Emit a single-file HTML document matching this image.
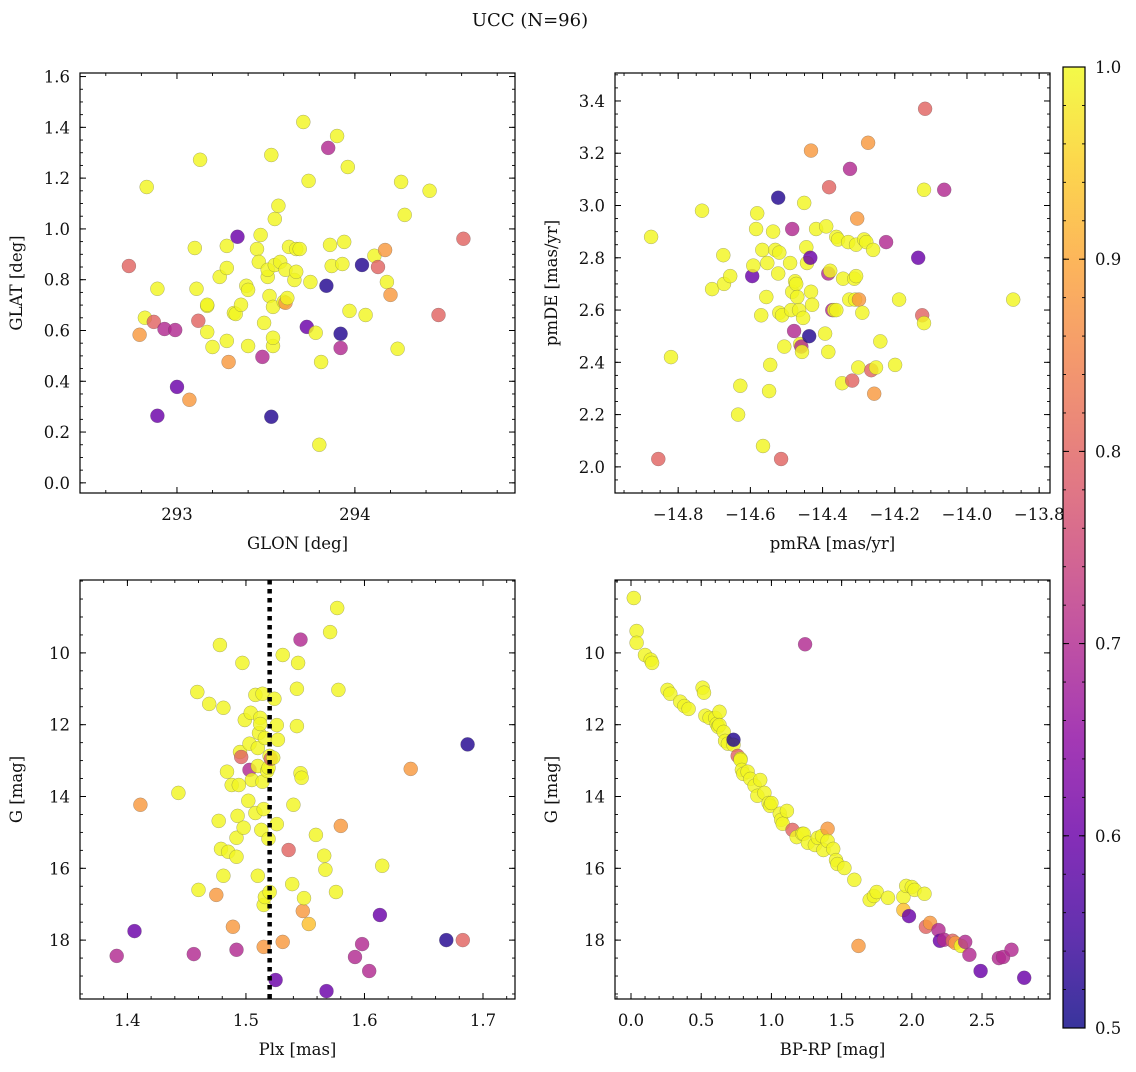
<!DOCTYPE html>
<html><head><meta charset="utf-8"><style>
html,body{margin:0;padding:0;background:#fff;}
svg text{font-family:"DejaVu Serif","Liberation Serif",serif;fill:#111;}
</style></head><body>
<svg id="fig" width="1136" height="1067" viewBox="0 0 1136 1067" xmlns="http://www.w3.org/2000/svg">
<text x="530" y="26" font-size="18" text-anchor="middle">UCC (N=96)</text>
</svg>
<script>
// probabilities per class
const Y=0.995,O=0.88,O2=0.93,S=0.80,M=0.70,P=0.60,B=0.52;
// top-left: GLON / GLAT
const tlGlon=[292.73,292.83,292.79,292.82,292.87,292.89,292.93,292.99,292.89,293.00,293.07,293.10,293.11,293.12,293.13,293.17,293.17,293.17,293.20,293.24,293.28,293.28,293.28,293.29,293.32,293.33,293.34,293.36,293.39,293.40,293.40,293.45,293.46,293.47,293.48,293.49,293.51,293.51,293.52,293.53,293.53,293.54,293.54,293.54,293.55,293.55,293.57,293.58,293.60,293.61,293.61,293.62,293.63,293.66,293.67,293.67,293.69,293.71,293.74,293.73,293.75,293.78,293.80,293.81,293.84,293.85,293.86,293.87,293.90,293.92,293.92,293.93,293.94,293.97,293.96,294.04,294.06,294.11,294.13,294.17,294.18,294.20,294.24,294.26,294.28,294.42,294.47,294.61];
const tlGlat=[0.854,1.165,0.583,0.650,0.634,0.764,0.606,0.602,0.264,0.378,0.327,0.925,0.764,0.638,1.272,0.697,0.594,0.701,0.535,0.811,0.846,0.933,0.559,0.476,0.669,0.665,0.969,0.701,0.776,0.760,0.539,0.921,0.870,0.976,0.496,0.630,0.811,0.839,0.736,1.291,0.260,0.693,0.539,0.571,0.858,1.039,1.091,0.870,0.713,0.709,0.839,0.728,0.929,0.799,0.921,0.831,0.921,1.421,1.189,0.614,0.791,0.591,0.150,0.476,0.776,1.319,0.937,0.854,1.366,0.587,0.531,0.862,0.949,0.677,1.244,0.858,0.661,0.894,0.850,0.917,0.791,0.740,0.528,1.185,1.055,1.150,0.661,0.961];
const tlProb=[S,Y,O,Y,S,Y,M,M,P,P,O,Y,Y,S,Y,Y,Y,Y,Y,Y,Y,Y,Y,O,Y,Y,P,Y,Y,Y,Y,Y,Y,Y,M,Y,Y,Y,Y,Y,B,Y,Y,Y,Y,Y,Y,Y,Y,O,Y,Y,Y,Y,Y,Y,Y,Y,Y,P,Y,Y,Y,Y,B,M,Y,Y,Y,B,M,Y,Y,Y,Y,B,Y,Y,S,O,Y,O,Y,Y,Y,Y,S,S];
// top-right: pmRA / pmDE
const trPmra=[-14.875,-14.855,-14.82,-14.734,-14.706,-14.675,-14.673,-14.656,-14.634,-14.628,-14.595,-14.592,-14.581,-14.584,-14.567,-14.570,-14.565,-14.556,-14.553,-14.548,-14.545,-14.537,-14.531,-14.523,-14.520,-14.523,-14.520,-14.515,-14.512,-14.506,-14.490,-14.487,-14.484,-14.484,-14.479,-14.476,-14.473,-14.470,-14.465,-14.462,-14.459,-14.457,-14.454,-14.451,-14.445,-14.443,-14.437,-14.434,-14.432,-14.432,-14.429,-14.418,-14.393,-14.390,-14.384,-14.384,-14.382,-14.379,-14.373,-14.368,-14.362,-14.362,-14.357,-14.346,-14.343,-14.329,-14.326,-14.324,-14.318,-14.312,-14.310,-14.307,-14.307,-14.304,-14.301,-14.299,-14.290,-14.285,-14.279,-14.274,-14.265,-14.260,-14.257,-14.252,-14.240,-14.224,-14.199,-14.188,-14.135,-14.124,-14.119,-14.119,-14.116,-14.063,-13.872];
const trPmde=[2.88,2.03,2.42,2.98,2.68,2.81,2.70,2.73,2.20,2.31,2.73,2.77,2.97,2.91,2.83,2.58,2.08,2.65,2.78,2.29,2.39,2.90,2.83,3.03,2.82,2.74,2.59,2.03,2.58,2.46,2.78,2.60,2.91,2.67,2.52,2.71,2.70,2.65,2.60,2.47,2.46,2.44,2.57,3.01,2.84,2.78,2.50,2.80,3.21,2.67,2.62,2.91,2.51,2.92,2.74,2.44,3.07,2.75,2.60,2.60,2.60,2.88,2.87,2.32,2.72,2.86,2.64,3.14,2.33,2.72,2.64,2.85,2.73,2.95,2.38,2.64,2.59,2.87,2.86,3.24,2.37,2.83,2.28,2.38,2.48,2.86,2.39,2.64,2.80,2.58,2.55,3.06,3.37,3.06,2.64];
const trProb=[Y,S,Y,Y,Y,Y,Y,Y,Y,Y,P,Y,Y,Y,Y,Y,Y,Y,Y,Y,Y,Y,Y,B,Y,Y,Y,S,Y,Y,Y,Y,M,Y,M,Y,Y,Y,Y,Y,M,Y,Y,Y,Y,Y,B,P,O,Y,Y,Y,Y,Y,M,Y,S,Y,M,Y,Y,Y,Y,Y,Y,Y,Y,M,S,Y,Y,Y,Y,O,Y,O,Y,Y,Y,O,S,Y,O,Y,Y,M,Y,Y,P,S,Y,Y,S,M,Y];
// bottom-left: Plx / G
const blPlx=[1.391,1.406,1.411,1.443,1.456,1.459,1.460,1.469,1.475,1.477,1.478,1.479,1.481,1.481,1.484,1.485,1.488,1.489,1.492,1.492,1.492,1.493,1.494,1.495,1.496,1.497,1.498,1.499,1.502,1.503,1.503,1.504,1.505,1.508,1.508,1.510,1.510,1.510,1.511,1.512,1.512,1.513,1.514,1.514,1.515,1.515,1.515,1.516,1.516,1.518,1.519,1.519,1.520,1.520,1.521,1.523,1.524,1.525,1.526,1.526,1.527,1.531,1.531,1.536,1.539,1.540,1.543,1.544,1.546,1.543,1.548,1.546,1.547,1.549,1.553,1.559,1.568,1.566,1.567,1.571,1.576,1.577,1.578,1.580,1.592,1.598,1.604,1.613,1.615,1.639,1.669,1.683,1.687];
const blG=[18.44,17.75,14.23,13.90,18.39,11.09,16.60,11.42,16.74,14.68,9.78,15.46,16.21,11.53,13.31,15.54,13.68,17.63,18.27,15.15,15.68,14.54,13.68,12.76,12.90,10.28,14.87,11.87,14.12,13.26,12.53,11.67,13.54,11.17,14.46,12.65,16.21,13.15,12.23,11.81,11.98,14.93,11.14,13.59,14.35,17.02,18.19,16.80,12.37,13.29,13.20,15.18,12.87,16.66,12.95,12.92,11.28,19.11,14.77,12.01,12.42,18.05,10.06,15.49,16.44,14.23,11.00,10.28,9.63,12.04,17.19,13.35,13.48,16.83,17.55,15.07,19.42,15.65,16.04,9.42,16.66,8.75,11.03,14.82,18.47,18.11,18.86,17.30,15.93,13.23,18.00,18.00,12.55];
const blProb=[M,P,O,Y,M,Y,Y,Y,O,Y,Y,Y,Y,Y,Y,Y,Y,O,M,Y,Y,Y,Y,Y,S,Y,Y,Y,Y,M,Y,Y,Y,Y,Y,Y,Y,Y,Y,Y,Y,Y,Y,Y,Y,Y,O,Y,Y,Y,Y,Y,Y,Y,S,Y,Y,P,Y,Y,Y,O,Y,S,Y,Y,Y,Y,M,Y,O,Y,Y,Y,O2,Y,P,Y,Y,Y,Y,Y,Y,O,M,M,M,P,Y,O,B,S,B];
const blPlxLine=1.52;
// bottom-right: BP-RP / G
const brBprp=[0.02,0.04,0.04,0.10,0.14,0.15,0.26,0.28,0.35,0.38,0.41,0.51,0.52,0.53,0.56,0.60,0.61,0.62,0.63,0.63,0.66,0.67,0.69,0.73,0.73,0.76,0.78,0.78,0.79,0.80,0.83,0.85,0.88,0.90,0.92,0.95,0.98,0.99,1.00,1.06,1.07,1.08,1.11,1.15,1.18,1.22,1.23,1.24,1.26,1.31,1.33,1.36,1.37,1.40,1.40,1.44,1.46,1.47,1.52,1.59,1.62,1.70,1.73,1.75,1.83,1.94,1.94,1.96,1.98,2.00,2.02,2.09,2.10,2.13,2.19,2.20,2.23,2.29,2.31,2.35,2.38,2.41,2.49,2.62,2.65,2.71,2.80];
const brG=[8.47,9.39,9.72,10.06,10.19,10.28,11.03,11.14,11.36,11.48,11.56,10.97,11.11,11.75,11.81,11.81,11.98,12.06,11.64,12.01,12.20,12.45,12.53,12.56,12.42,12.87,12.95,12.98,13.26,13.37,13.31,13.51,13.70,13.98,13.54,13.90,14.18,14.26,14.18,14.48,14.65,14.76,14.40,14.93,15.13,15.04,15.04,9.76,15.29,15.35,15.15,15.10,15.49,14.90,15.24,15.46,15.77,15.88,15.99,16.32,18.16,16.88,16.77,16.66,16.82,16.80,17.16,16.49,17.33,16.52,16.60,16.71,17.63,17.52,17.72,18.02,17.99,18.02,18.08,18.16,18.05,18.41,18.86,18.50,18.47,18.27,19.05];
const brProb=[Y,Y,Y,Y,Y,Y,Y,Y,Y,Y,Y,Y,Y,Y,Y,Y,Y,Y,Y,Y,Y,Y,Y,Y,B,S,Y,Y,Y,Y,Y,Y,Y,Y,Y,Y,Y,Y,Y,Y,Y,Y,Y,S,Y,Y,Y,M,Y,Y,Y,Y,Y,O,Y,Y,Y,Y,Y,Y,O,Y,Y,Y,Y,Y,O2,Y,P,Y,Y,Y,S,O,M,P,M,S,O,Y,M,M,P,M,M,M,P];
// tick labels
const tlXTicks=[293,294], tlYTicks=[0.0,0.2,0.4,0.6,0.8,1.0,1.2,1.4,1.6];
const trXTicks=[-14.8,-14.6,-14.4,-14.2,-14.0,-13.8], trYTicks=[2.0,2.2,2.4,2.6,2.8,3.0,3.2,3.4];
const blXTicks=[1.4,1.5,1.6,1.7], gTicks=[10,12,14,16,18];
const brXTicks=[0.0,0.5,1.0,1.5,2.0,2.5];
const cbTicks=[0.5,0.6,0.7,0.8,0.9,1.0];

const NS='http://www.w3.org/2000/svg';
const svg=document.getElementById('fig');
function mk(tag,attrs,parent){const e=document.createElementNS(NS,tag);for(const k in attrs)e.setAttribute(k,attrs[k]);(parent||svg).appendChild(e);return e;}
const stops=['#0d0887','#41049d','#6a00a8','#8f0da4','#b12a90','#cc4778','#e16462','#f2844b','#fca636','#fcce25','#f0f921'];
function hex(h){return [parseInt(h.substr(1,2),16),parseInt(h.substr(3,2),16),parseInt(h.substr(5,2),16)];}
function plasma(t){t=Math.max(0,Math.min(1,t));const f=t*10,i=Math.min(9,Math.floor(f)),r=f-i;const a=hex(stops[i]),b=hex(stops[i+1]);return 'rgb('+a.map((v,k)=>Math.round(v+(b[k]-v)*r)).join(',')+')';}
function pcol(p){return plasma((p-0.5)/0.5);}
function fmt(v,d){return (v<0?'\u2212':'')+Math.abs(v).toFixed(d);}

function panel(name,px0,px1,py0,py1,xd,yd,xt,xdec,xminor,yt,ydec,yminor,xlabel,ylabel,xs,ys,ps){
  const g=mk('g',{});
  
  
  const sx=v=>px0+(v-xd[0])/(xd[1]-xd[0])*(px1-px0);
  const sy=v=>py0+(v-yd[0])/(yd[1]-yd[0])*(py1-py0);
  const clip=mk('clipPath',{id:'clip-'+name},g);mk('rect',{x:px0,y:Math.min(py0,py1),width:px1-px0,height:Math.abs(py1-py0)},clip);
  const pts=mk('g',{'clip-path':'url(#clip-'+name+')'},g);
  for(let i=0;i<xs.length;i++){
    const c=mk('circle',{cx:sx(xs[i]).toFixed(1),cy:sy(ys[i]).toFixed(1),r:7,fill:pcol(ps[i]),'fill-opacity':0.82,stroke:'#555','stroke-width':0.4,'stroke-opacity':0.6},pts);
    
    
  }
  const top=Math.min(py0,py1),bot=Math.max(py0,py1);
  mk('rect',{x:px0,y:top,width:px1-px0,height:bot-top,fill:'none',stroke:'#000','stroke-width':1.2},g);
  const lo=Math.min(xd[0],xd[1]),hi=Math.max(xd[0],xd[1]);
  for(let v=Math.ceil(lo/xminor-1e-6)*xminor;v<=hi+1e-9;v+=xminor){const x=sx(v);mk('line',{x1:x,x2:x,y1:bot,y2:bot-3,stroke:'#000','stroke-width':0.9},g);mk('line',{x1:x,x2:x,y1:top,y2:top+3,stroke:'#000','stroke-width':0.9},g);}
  const ylo=Math.min(yd[0],yd[1]),yhi=Math.max(yd[0],yd[1]);
  for(let v=Math.ceil(ylo/yminor-1e-6)*yminor;v<=yhi+1e-9;v+=yminor){const y=sy(v);mk('line',{x1:px0,x2:px0+3,y1:y,y2:y,stroke:'#000','stroke-width':0.9},g);mk('line',{x1:px1,x2:px1-3,y1:y,y2:y,stroke:'#000','stroke-width':0.9},g);}
  xt.forEach(v=>{const x=sx(v);mk('line',{x1:x,x2:x,y1:bot,y2:bot-6,stroke:'#000','stroke-width':1},g);mk('line',{x1:x,x2:x,y1:top,y2:top+6,stroke:'#000','stroke-width':1},g);
    const t=mk('text',{x:x,y:bot+27,'font-size':16.5,'text-anchor':'middle'},g);t.textContent=fmt(v,xdec);
    
    });
  yt.forEach(v=>{const y=sy(v);mk('line',{x1:px0,x2:px0+6,y1:y,y2:y,stroke:'#000','stroke-width':1},g);mk('line',{x1:px1,x2:px1-6,y1:y,y2:y,stroke:'#000','stroke-width':1},g);
    const t=mk('text',{x:px0-10,y:y+6,'font-size':16.5,'text-anchor':'end'},g);t.textContent=fmt(v,ydec);
    
    });
  const xl=mk('text',{x:(px0+px1)/2,y:bot+56,'font-size':16.5,'text-anchor':'middle'},g);xl.textContent=xlabel;
  
  
  const yx=px0-58,yy=(top+bot)/2;
  const yl=mk('text',{x:yx,y:yy,'font-size':16.5,'text-anchor':'middle',transform:'rotate(-90 '+yx+' '+yy+')'},g);yl.textContent=ylabel;
  
  
  return {sx,sy,g};
}
panel('glon-glat-panel',80,515,493,73,[292.455,294.90],[-0.04,1.614],tlXTicks,0,0.2,tlYTicks,1,0.05,'GLON [deg]','GLAT [deg]',tlGlon,tlGlat,tlProb);
panel('pm-panel',615,1050,493,73,[-14.975,-13.77],[1.90,3.507],trXTicks,1,0.05,trYTicks,1,0.05,'pmRA [mas/yr]','pmDE [mas/yr]',trPmra,trPmde,trProb);
const bl=panel('plx-g-panel',80,515,580,999,[1.360,1.727],[7.97,19.64],blXTicks,1,0.02,gTicks,0,0.5,'Plx [mas]','G [mag]',blPlx,blG,blProb);
const ln=mk('line',{x1:bl.sx(blPlxLine),x2:bl.sx(blPlxLine),y1:580,y2:999,stroke:'#000','stroke-width':4.5,'stroke-dasharray':'4.5 4.5'},bl.g);


panel('cmd-panel',615,1050,580,999,[-0.114,2.984],[7.97,19.64],brXTicks,1,0.1,gTicks,0,0.5,'BP-RP [mag]','G [mag]',brBprp,brG,brProb);

// colorbar
const cb=mk('g',{});


const defs=mk('defs',{},cb);
const lg=mk('linearGradient',{id:'cbg',x1:0,y1:1,x2:0,y2:0},defs);
for(let i=0;i<=20;i++){mk('stop',{offset:i/20,'stop-color':plasma(i/20)},lg);}
const cy0=67,cy1=1028,cx0=1063,cx1=1085;
mk('rect',{x:cx0,y:cy0,width:cx1-cx0,height:cy1-cy0,fill:'url(#cbg)','fill-opacity':0.82},cb);
mk('rect',{x:cx0,y:cy0,width:cx1-cx0,height:cy1-cy0,fill:'none',stroke:'#000','stroke-width':1.2},cb);
const cs=v=>cy1-(v-0.5)/0.5*(cy1-cy0);
for(let v=0.5;v<=1.0001;v+=0.02){const y=cs(v);mk('line',{x1:cx1,x2:cx1-3,y1:y,y2:y,stroke:'#000','stroke-width':0.9},cb);mk('line',{x1:cx0,x2:cx0+3,y1:y,y2:y,stroke:'#000','stroke-width':0.9},cb);}
cbTicks.forEach(v=>{const y=cs(v);mk('line',{x1:cx1,x2:cx1-6,y1:y,y2:y,stroke:'#000','stroke-width':1},cb);mk('line',{x1:cx0,x2:cx0+6,y1:y,y2:y,stroke:'#000','stroke-width':1},cb);
  const t=mk('text',{x:cx1+10,y:y+6,'font-size':16.5},cb);t.textContent=v.toFixed(1);
  
  });
</script>
</body></html>
